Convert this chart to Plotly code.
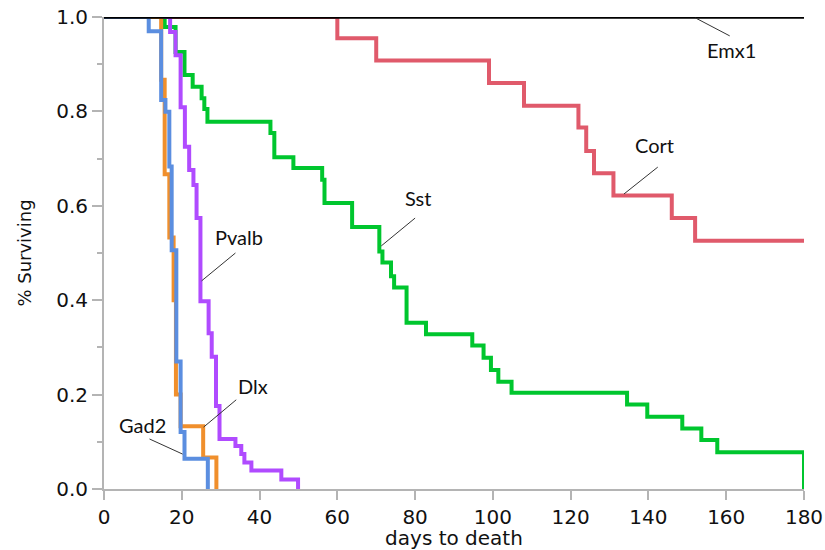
import plotly.graph_objects as go

# ---- data ----
emx1_days = [0, 180]
emx1_surv = [1.0, 1.0]

cort_days = [0, 60, 70, 99, 108, 122, 124, 126, 131, 146, 152, 180]
cort_surv = [1.0, 0.955, 0.908, 0.860, 0.812, 0.766, 0.716, 0.669, 0.622, 0.574, 0.526, 0.526]

sst_days = [0, 15.6, 18.4, 20.7, 22.8, 25.1, 25.8, 26.6, 42.8, 43.8, 48.7, 56.1, 56.7,
            63.8, 70.8, 71.6, 73.8, 74.6, 77.8, 82.8, 94.7, 97.6, 99.5, 101.4, 104.8,
            134.5, 139.7, 148.7, 153.6, 157.7, 180]
sst_surv = [1.0, 0.979, 0.926, 0.877, 0.852, 0.828, 0.805, 0.778, 0.754, 0.703, 0.680, 0.655, 0.606,
            0.555, 0.503, 0.480, 0.451, 0.427, 0.352, 0.328, 0.304, 0.278, 0.252, 0.227, 0.204,
            0.179, 0.153, 0.128, 0.104, 0.078, 0.0]

pvalb_days = [0, 17.0, 18.4, 19.7, 20.8, 21.9, 23.0, 23.8, 24.8, 26.9, 27.7, 28.8, 29.7,
              33.8, 35.3, 36.1, 37.9, 45.6, 49.9]
pvalb_surv = [1.0, 0.968, 0.919, 0.809, 0.725, 0.676, 0.644, 0.574, 0.398, 0.330, 0.280, 0.176, 0.106,
              0.091, 0.074, 0.056, 0.039, 0.020, 0.0]

dlx_days = [0, 14.7, 15.6, 16.8, 17.9, 18.5, 19.7, 25.5, 28.9]
dlx_surv = [1.0, 0.867, 0.667, 0.533, 0.400, 0.200, 0.133, 0.067, 0.0]

gad2_days = [0, 11.5, 14.7, 15.8, 16.8, 17.4, 18.6, 19.7, 20.7, 26.7]
gad2_surv = [1.0, 0.970, 0.824, 0.799, 0.683, 0.506, 0.270, 0.121, 0.064, 0.0]

x_ticks = [0, 20, 40, 60, 80, 100, 120, 140, 160, 180]
y_ticks = [0.0, 0.2, 0.4, 0.6, 0.8, 1.0]

series = [
    ("Cort", cort_days, cort_surv, "#E05A6B", 4),
    ("Sst", sst_days, sst_surv, "#00C62E", 4),
    ("Pvalb", pvalb_days, pvalb_surv, "#B04BFF", 4),
    ("Dlx", dlx_days, dlx_surv, "#F08F2C", 4),
    ("Gad2", gad2_days, gad2_surv, "#5B8EE0", 4),
    ("Emx1", emx1_days, emx1_surv, "#000000", 3.5),
]

fig = go.Figure()
for name, xs, ys, col, w in series:
    fig.add_trace(go.Scatter(x=xs, y=ys, mode="lines", name=name,
                             line=dict(color=col, width=w, shape="hv"),
                             cliponaxis=False, hoverinfo="skip"))

# label text and leader lines (positions in data units)
labels = [
    ("Emx1", (161.4, 0.930), (152.1, 0.998), (160.9, 0.960)),
    ("Cort", (141.6, 0.729), (142.4, 0.682), (133.7, 0.625)),
    ("Sst", (80.8, 0.617), (80.0, 0.574), (71.3, 0.515)),
    ("Pvalb", (34.8, 0.534), (33.8, 0.500), (25.1, 0.441)),
    ("Dlx", (38.2, 0.218), (34.0, 0.189), (25.6, 0.131)),
    ("Gad2", (9.9, 0.136), (11.7, 0.106), (20.2, 0.074)),
]
for txt, (tx, ty), (x0, y0), (x1, y1) in labels:
    fig.add_annotation(x=tx, y=ty, text=txt, showarrow=False,
                       font=dict(family="Lato", size=20, color="#111111"))
    fig.add_shape(type="line", x0=x0, y0=y0, x1=x1, y1=y1,
                  line=dict(color="#333333", width=1))

axis_col = "#b4b4b4"
fig.update_layout(
    width=825, height=550,
    margin=dict(l=104, r=21, t=17, b=61),
    paper_bgcolor="white", plot_bgcolor="white",
    showlegend=False, hovermode=False,
    font=dict(family="DejaVu Sans", size=20, color="#111111"),
    xaxis=dict(range=[0, 180], tickvals=x_ticks, ticktext=[str(v) for v in x_ticks],
               showgrid=False, zeroline=False, showline=True, linecolor=axis_col, linewidth=2,
               ticks="outside", ticklen=9, tickwidth=2, tickcolor=axis_col,
               tickfont=dict(family="DejaVu Sans", size=20), ticklabeloverflow="allow",
               title=dict(text="days to death", standoff=6,
                          font=dict(family="DejaVu Sans", size=20)),
               automargin=False),
    yaxis=dict(range=[0, 1], tickvals=y_ticks, ticktext=[f"{v:.1f}" for v in y_ticks],
               showgrid=False, zeroline=False, showline=True, linecolor=axis_col, linewidth=2,
               ticks="outside", ticklen=10, tickwidth=2, tickcolor=axis_col,
               tickfont=dict(family="DejaVu Sans", size=20), ticklabeloverflow="allow",
               minor=dict(dtick=0.1, ticks="outside", ticklen=5, tickwidth=2, tickcolor=axis_col),
               title=dict(text="% Surviving", standoff=20,
                          font=dict(family="DejaVu Sans", size=18)),
               automargin=False),
)

# remove the default 8px page margin so the 825x550 figure fills the window exactly
fig.write_html("out.html", config={"displayModeBar": False},
               post_script="document.body.style.margin='0';")
